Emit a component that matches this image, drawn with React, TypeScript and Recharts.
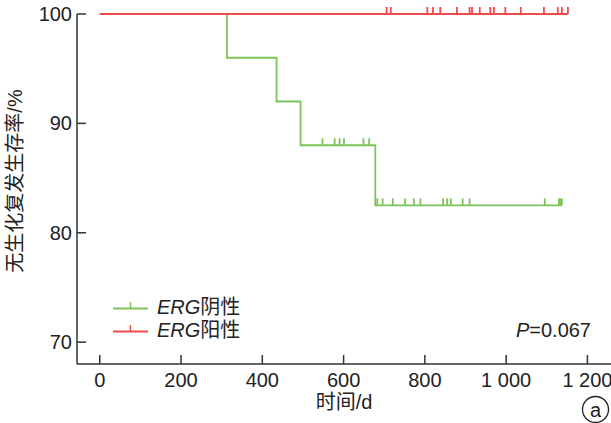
import React from "react";
import { LineChart, Line, XAxis, YAxis } from "recharts";

// ERG negative group: event days and survival after each event
const negEventDays = [0, 313, 435, 494, 678];
const negSurvival = [100, 96, 92, 88, 82.5];
const negCensorDays = [
    548, 578, 590, 601, 649, 663, 683, 696, 721, 751, 773, 789, 845, 855, 864, 893, 910, 1095, 1130,
    1133, 1137,
];

// ERG positive group: no events, only censored patients
const posEventDays = [0];
const posSurvival = [100];
const posCensorDays = [
    706, 716, 806, 820, 838, 879, 910, 916, 935, 961, 970, 998, 1036, 1093, 1127, 1137, 1152,
];

const xTicks = [0, 200, 400, 600, 800, 1000, 1200];
const xTickLabels = ["0", "200", "400", "600", "800", "1 000", "1 200"];
const yTicks = [70, 80, 90, 100];

const GREEN = "#7cc45a";
const RED = "#f04a4a";
const AXIS = "#333";
const FONT = '"Liberation Sans", Arial, "Noto Sans CJK SC", sans-serif';

interface Row {
    day: number;
    surv: number;
    censored: boolean;
}

// build step curve rows: events plus censor marks at the current survival
const buildCurve = (eventDays: number[], survival: number[], censorDays: number[]): Row[] => {
    const rows: Row[] = eventDays.map((d, i) => ({ day: d, surv: survival[i], censored: false }));
    censorDays.forEach((c) => {
        let s = survival[0];
        eventDays.forEach((d, i) => {
            if (d <= c) s = survival[i];
        });
        rows.push({ day: c, surv: s, censored: true });
    });
    return rows.sort((a, b) => a.day - b.day);
};

const negData = buildCurve(negEventDays, negSurvival, negCensorDays);
const posData = buildCurve(posEventDays, posSurvival, posCensorDays);

const censorDot = (color: string) => (props: any) => {
    const { cx, cy, payload, index } = props;
    if (!payload?.censored) return <g key={`n-${index}`} />;
    return <line key={`c-${index}`} x1={cx} y1={cy} x2={cx} y2={cy - 7} stroke={color} strokeWidth={1.8} />;
};

const App: React.FC = () => {
    return (
        <div style={{ position: "absolute", left: 0, top: 0, width: 611, height: 423, background: "#fff" }}>
            <LineChart width={611} height={423} margin={{ top: 14, right: 0, bottom: 0, left: 0 }}>
                <XAxis
                    type="number"
                    dataKey="day"
                    domain={[-56, 1258]}
                    ticks={xTicks}
                    tickFormatter={(v: number) => xTickLabels[xTicks.indexOf(v)]}
                    height={59}
                    tickSize={-9}
                    tickMargin={17.5}
                    axisLine={{ stroke: AXIS, strokeWidth: 1.5 }}
                    tickLine={{ stroke: AXIS, strokeWidth: 1.5 }}
                    tick={{ fill: "#222", fontSize: 20, fontFamily: FONT }}
                    label={{
                        value: "时间/d",
                        position: "insideBottom",
                        offset: 14,
                        fill: "#222",
                        fontSize: 20,
                        fontFamily: FONT,
                    }}
                />
                <YAxis
                    type="number"
                    dataKey="surv"
                    domain={[68, 100]}
                    ticks={yTicks}
                    width={77}
                    tickSize={-9}
                    tickMargin={14}
                    axisLine={{ stroke: AXIS, strokeWidth: 1.5 }}
                    tickLine={{ stroke: AXIS, strokeWidth: 1.5 }}
                    tick={{ fill: "#222", fontSize: 20, fontFamily: FONT }}
                />
                <Line
                    data={negData}
                    dataKey="surv"
                    type="stepAfter"
                    stroke={GREEN}
                    strokeWidth={1.8}
                    dot={censorDot(GREEN)}
                    activeDot={false}
                    isAnimationActive={false}
                />
                <Line
                    data={posData}
                    dataKey="surv"
                    type="stepAfter"
                    stroke={RED}
                    strokeWidth={1.8}
                    dot={censorDot(RED)}
                    activeDot={false}
                    isAnimationActive={false}
                />
            </LineChart>
            <svg
                width={611}
                height={423}
                style={{ position: "absolute", left: 0, top: 0, pointerEvents: "none" }}
                fontFamily={FONT}
            >
                {/* y axis title */}
                <text
                    x={15}
                    y={181}
                    transform="rotate(-90, 15, 181)"
                    textAnchor="middle"
                    dominantBaseline="central"
                    fontSize={20}
                    fill="#222"
                >
                    无生化复发生存率/%
                </text>
                {/* legend */}
                <line x1={113} y1={308.5} x2={148} y2={308.5} stroke={GREEN} strokeWidth={1.8} />
                <line x1={130.5} y1={308.5} x2={130.5} y2={302} stroke={GREEN} strokeWidth={1.5} />
                <text x={157} y={313.5} fontSize={20} fill="#222">
                    <tspan fontStyle="italic">ERG</tspan>阴性
                </text>
                <line x1={113} y1={331.5} x2={148} y2={331.5} stroke={RED} strokeWidth={1.8} />
                <line x1={130.5} y1={331.5} x2={130.5} y2={325} stroke={RED} strokeWidth={1.5} />
                <text x={157} y={337} fontSize={20} fill="#222">
                    <tspan fontStyle="italic">ERG</tspan>阳性
                </text>
                {/* p value */}
                <text x={591} y={337} textAnchor="end" fontSize={20} fill="#222">
                    <tspan fontStyle="italic">P</tspan>=0.067
                </text>
                {/* panel label */}
                <circle cx={595.5} cy={409.5} r={13} fill="none" stroke="#222" strokeWidth={1.3} />
                <text x={595.5} y={409.5} textAnchor="middle" dominantBaseline="central" fontSize={20} fill="#222">
                    a
                </text>
            </svg>
        </div>
    );
};

export default App;
